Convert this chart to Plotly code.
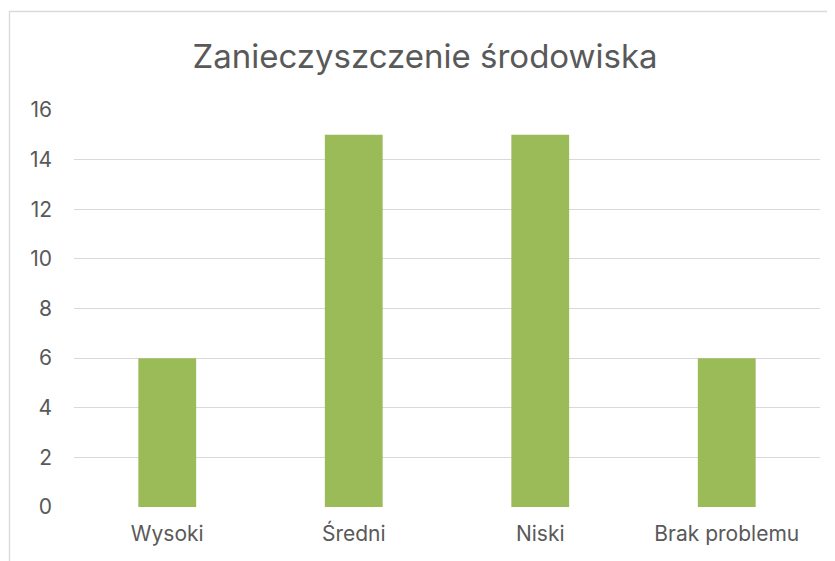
import plotly.graph_objects as go

categories = ["Wysoki", "Średni", "Niski", "Brak problemu"]
values = [6, 15, 15, 6]
y_ticks = [0, 2, 4, 6, 8, 10, 12, 14, 16]

# the page body adds an 8px margin, so the figure is drawn 8px smaller and shifted
OFF = 8
W, H = 835 - OFF, 561 - OFF
L, R, T, B = 74 - OFF, 15, 110 - OFF, 54
pw, ph = W - L - R, H - T - B

def px_to_paper_x(px):
    return (px - OFF - L) / pw

def px_to_paper_y(py):
    return (H - B - (py - OFF)) / ph

fig = go.Figure(go.Bar(
    x=categories, y=values,
    marker=dict(color="#9BBB59", line=dict(width=0)),
))

font_family = "Inter, Open Sans, sans-serif"
fig.update_layout(
    width=W, height=H,
    margin=dict(l=L, r=R, t=T, b=B),
    paper_bgcolor="white", plot_bgcolor="white",
    bargap=0.69,
    showlegend=False,
    title=dict(text="Zanieczyszczenie środowiska", x=(425 - OFF) / W, xref="container", xanchor="center",
               y=1 - (56 - OFF) / H, yref="container", yanchor="middle",
               font=dict(family=font_family, size=33, color="#595959")),
    font=dict(family=font_family, color="#595959", size=21),
    xaxis=dict(showgrid=False, showline=False, zeroline=False, ticks="",
               tickfont=dict(size=21, color="#595959"), ticklabelstandoff=12),
    yaxis=dict(range=[0, 16], tickvals=y_ticks, showgrid=True, gridcolor="#D9D9D9", gridwidth=1.3,
               zeroline=False, showline=False, ticks="",
               tickfont=dict(size=21, color="#595959"), ticklabelstandoff=21),
    shapes=[dict(type="rect", xref="paper", yref="paper",
                 x0=px_to_paper_x(9.5), x1=px_to_paper_x(900),
                 y0=px_to_paper_y(650), y1=px_to_paper_y(11.5),
                 line=dict(color="#D9D9D9", width=1.3), fillcolor="rgba(0,0,0,0)", layer="below")],
)

fig.write_html("out.html")
